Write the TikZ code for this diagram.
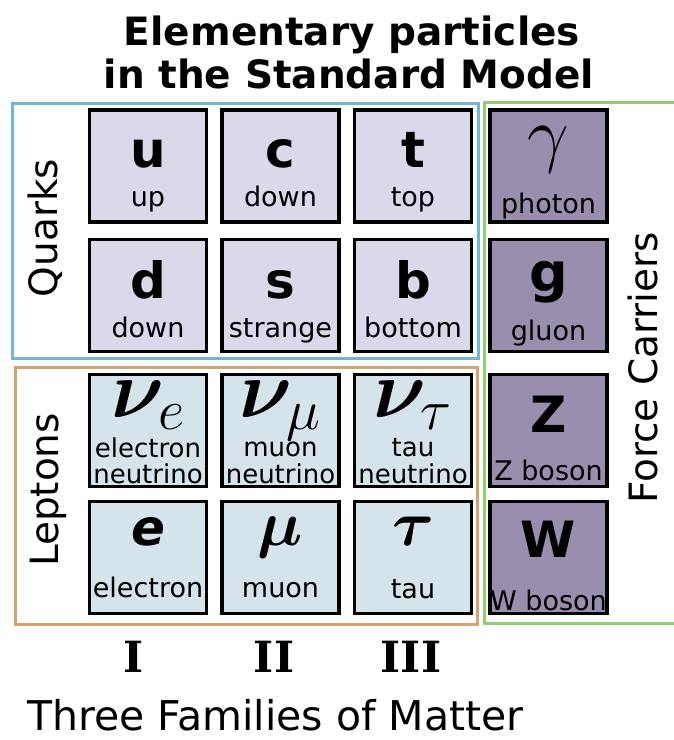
\RequirePackage{fix-cm}
\documentclass[tikz,border=0pt]{standalone}
\usepackage{bm}
\usepackage[no-math]{fontspec}
\setmainfont{DejaVu Sans}
\newfontfamily\romfont{DejaVu Serif}
\newcommand\fsz[1]{\fontsize{#1}{#1}\selectfont}
\definecolor{qfill}{HTML}{DCD7E9}
\definecolor{ffill}{HTML}{9A8EAF}
\definecolor{lfill}{HTML}{D5E4EA}
\definecolor{qframe}{HTML}{72B6D3}
\definecolor{lframe}{HTML}{D1A472}
\definecolor{fframe}{HTML}{8FD06E}
\begin{document}
\begin{tikzpicture}[x=1pt,y=-1pt,
  pbox/.style={draw=black, line width=3.5pt, minimum width=117pt, minimum height=112pt, inner sep=0pt},
  qbox/.style={pbox, fill=qfill},
  fbox/.style={pbox, fill=ffill},
  lbox/.style={pbox, fill=lfill},
  frame/.style={line width=3pt},
  sym/.style={anchor=base, inner sep=0pt, font=\fsz{50}\bfseries},
  nm/.style={anchor=base, inner sep=0pt, font=\fsz{27}},
  lab/.style={inner sep=0pt, font=\fsz{39}},
  title/.style={anchor=base, inner sep=0pt, font=\fsz{39}\bfseries},
  rom/.style={anchor=base, inner sep=0pt, font=\fsz{43}\romfont\bfseries}]
\path[use as bounding box] (0,0) rectangle (673,740);
% frames
\draw[frame, qframe] (12,103) rectangle (478,358);
\draw[frame, lframe] (15,367) rectangle (477,624);
\draw[frame, fframe] (690,102) -- (484,102) -- (484,623) -- (690,623);
% title
\node[title] (t1) at (352,45) {Elementary particles};
\node[title] (t2) at (349,88) {in the Standard Model};
% boxes
\node[qbox] (u) at (148,166) {};
\node[qbox] (c) at (280.5,166) {};
\node[qbox] (t) at (413,166) {};
\node[fbox] (ga) at (548.5,166) {};
\node[qbox] (d) at (148,295.5) {};
\node[qbox] (s) at (280.5,295.5) {};
\node[qbox] (b) at (413,295.5) {};
\node[fbox] (g) at (548.5,295.5) {};
\node[lbox] (nue) at (148,430.5) {};
\node[lbox] (num) at (280.5,430.5) {};
\node[lbox] (nut) at (413,430.5) {};
\node[fbox] (Z) at (548.5,430.5) {};
\node[lbox] (e) at (148,557.5) {};
\node[lbox] (mu) at (280.5,557.5) {};
\node[lbox] (tau) at (413,557.5) {};
\node[fbox] (W) at (548.5,557.5) {};
% row 1
\node[sym] (us) at ([yshift=-1pt]u.center) {u};
\node[nm] (un) at ([yshift=-40pt]u.center) {up};
\node[sym] (cs) at ([yshift=-1pt]c.center) {c};
\node[nm] (cn) at ([yshift=-40pt]c.center) {down};
\node[sym] (ts) at ([yshift=-1pt]t.center) {t};
\node[nm] (tn) at ([yshift=-40pt]t.center) {top};
\node[anchor=base, inner sep=0pt, font=\fsz{74}] (gas) at ([yshift=8pt]ga.center) {$\gamma$};
\node[nm] (gan) at ([yshift=-47pt]ga.center) {photon};
% row 2
\node[sym] (ds) at ([yshift=-2.5pt]d.center) {d};
\node[nm] (dn) at ([yshift=-41.5pt]d.center) {down};
\node[sym] (ss) at ([yshift=-2.5pt]s.center) {s};
\node[nm] (sn) at ([yshift=-41.5pt]s.center) {strange};
\node[sym] (bs) at ([yshift=-2.5pt]b.center) {b};
\node[nm] (bn) at ([yshift=-41.5pt]b.center) {bottom};
\node[sym, font=\fsz{54}\bfseries] (gs) at ([yshift=4pt]g.center) {g};
\node[nm] (gn) at ([yshift=-44.5pt]g.center) {gluon};
% row 3
\node[anchor=base, inner sep=0pt, font=\fsz{82}] (nues) at ([yshift=13pt]nue.center) {$\bm{\nu}_{e}$};
\node[nm, font=\fsz{26}] (nuen1) at ([yshift=-27pt]nue.center) {electron};
\node[nm, font=\fsz{26}] (nuen2) at ([yshift=-53pt]nue.center) {neutrino};
\node[anchor=base, inner sep=0pt, font=\fsz{82}] (nums) at ([yshift=13pt]num.center) {$\bm{\nu}_{\mu}$};
\node[nm, font=\fsz{26}] (numn1) at ([yshift=-26pt]num.center) {muon};
\node[nm, font=\fsz{26}] (numn2) at ([yshift=-53pt]num.center) {neutrino};
\node[anchor=base, inner sep=0pt, font=\fsz{82}] (nuts) at ([yshift=13pt]nut.center) {$\bm{\nu}_{\tau}$};
\node[nm, font=\fsz{26}] (nutn1) at ([yshift=-26pt]nut.center) {tau};
\node[nm, font=\fsz{26}] (nutn2) at ([yshift=-53pt]nut.center) {neutrino};
\node[sym] (Zs) at ([yshift=-1.5pt]Z.center) {Z};
\node[nm] (Zn) at ([yshift=-49.5pt]Z.center) {Z boson};
% row 4
\node[sym, font=\fsz{50}\bfseries\itshape] (es) at ([yshift=12.5pt]e.center) {e};
\node[nm] (en) at ([yshift=-39.5pt]e.center) {electron};
\node[anchor=base, inner sep=0pt, font=\fsz{64}] (mus) at ([yshift=12.5pt]mu.center) {$\bm{\mu}$};
\node[nm] (mun) at ([yshift=-39.5pt]mu.center) {muon};
\node[anchor=base, inner sep=0pt, font=\fsz{64}] (taus) at ([yshift=12.5pt]tau.center) {$\bm{\tau}$};
\node[nm] (taun) at ([yshift=-40.5pt]tau.center) {tau};
\node[sym] (Ws) at ([yshift=0.5pt]W.center) {W};
\node[nm] (Wn) at ([yshift=-52.5pt]W.center) {W boson};
% side labels
\node[lab, rotate=90] (quarks) at (45,228) {Quarks};
\node[lab, rotate=90] (leptons) at (48,490) {Leptons};
\node[lab, rotate=90] (force) at (643,368) {Force Carriers};
% bottom
\node[rom] (f1) at (134,672) {I};
\node[rom] (f2) at (274,672) {II};
\node[rom] (f3) at (411,672) {III};
\node[anchor=base west, inner sep=0pt, font=\fsz{41}] (fam) at (27,730) {Three Families of Matter};
\end{tikzpicture}
\end{document}
